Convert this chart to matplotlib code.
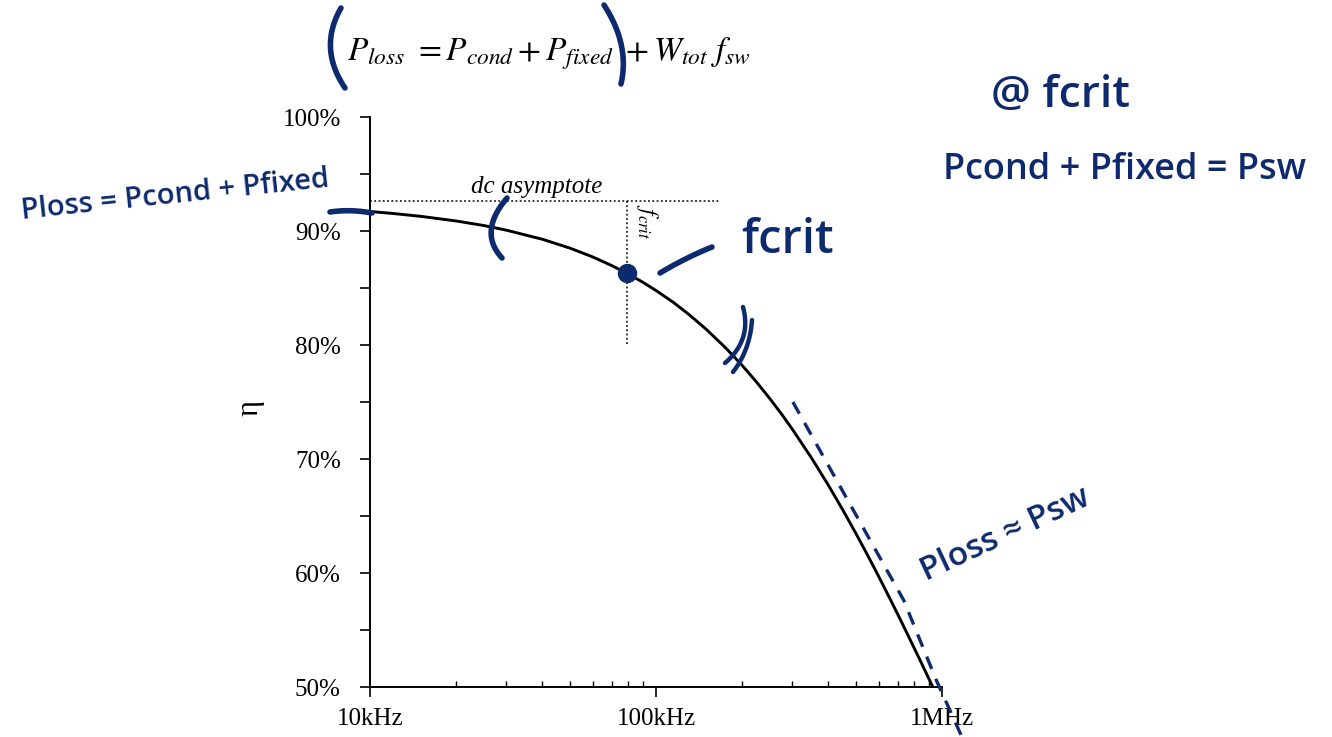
import numpy as np
import matplotlib
matplotlib.use("Agg")
import matplotlib.pyplot as plt
from matplotlib.lines import Line2D
from matplotlib.ticker import FixedLocator, NullFormatter

# efficiency vs switching frequency
f_khz = [10, 12, 15, 20, 25, 30, 40, 50, 60, 70, 80, 90, 100, 115, 130,
         150, 175, 200, 225, 250, 275, 300, 350, 400, 450, 500, 550, 600,
         650, 700, 750, 800, 850, 900, 929]
eta_pct = [91.71, 91.54, 91.29, 90.88, 90.48, 90.07, 89.28, 88.50, 87.73,
           86.97, 86.23, 85.50, 84.78, 83.74, 82.70, 81.37, 79.76, 78.22,
           76.73, 75.30, 73.93, 72.60, 70.08, 67.73, 65.53, 63.47, 61.54,
           59.72, 58.00, 56.39, 54.85, 53.40, 52.03, 50.72, 50.0]

# dc asymptote and critical frequency
eta_dc = 92.6
f_dc_end_khz = 168
f_crit_khz = 79
eta_crit = 86.3
eta_crit_low = 80.0

# hand-drawn switching-loss asymptote (Ploss ~ Psw)
f_sw_khz = [301, 490, 735, 955, 1175]
eta_sw = [75.0, 65.5, 57.6, 50.6, 45.6]

yticks = [50, 60, 70, 80, 90, 100]
ytick_labels = ["50%", "60%", "70%", "80%", "90%", "100%"]
xticks_khz = [10, 100, 1000]
xtick_labels = ["10kHz", "100kHz", "1MHz"]

INK = "#0d2a6e"
W, H = 1332, 737

plt.rcParams["mathtext.fontset"] = "stix"
serif = "Liberation Serif"

fig = plt.figure(figsize=(W / 100, H / 100), dpi=100)
ax = fig.add_axes([370 / W, 1 - 687 / H, 572 / W, 570 / H])

f = np.array(f_khz) * 1e3
ax.plot(f, eta_pct, color="black", lw=2.1, solid_capstyle="butt", zorder=3)

# dotted helper lines
ax.plot([1e4, f_dc_end_khz * 1e3], [eta_dc, eta_dc], color="black", lw=1.1,
        ls=(0, (1.2, 1.6)), zorder=2)
ax.plot([f_crit_khz * 1e3, f_crit_khz * 1e3], [eta_dc, eta_crit_low],
        color="black", lw=1.1, ls=(0, (1.2, 1.6)), zorder=2)
ax.text(np.sqrt(1e4 * f_dc_end_khz * 1e3) * 0.93, eta_dc + 0.3, "dc asymptote",
        fontsize=18, family=serif, style="italic", ha="center", va="bottom")
ax.text(f_crit_khz * 1e3 * 1.06, eta_dc - 0.2, r"$f_{crit}$", fontsize=17,
        rotation=270, ha="left", va="top")

# pen marks
ax.plot([f_crit_khz * 1e3], [eta_crit], "o", color=INK, ms=13, zorder=4)
ax.plot(np.array(f_sw_khz) * 1e3, eta_sw, color=INK, lw=2.4,
        ls=(0, (4, 3.2)), clip_on=False, zorder=4)

ax.set_xscale("log")
ax.set_xlim(1e4, 1e6)
ax.set_ylim(50, 100)
ax.set_yticks(yticks)
ax.set_yticklabels(ytick_labels)
ax.yaxis.set_minor_locator(FixedLocator([55, 65, 75, 85, 95]))
ax.set_xticks(np.array(xticks_khz) * 1e3)
ax.set_xticklabels(xtick_labels)
ax.xaxis.set_minor_formatter(NullFormatter())
for lab in ax.get_xticklabels() + ax.get_yticklabels():
    lab.set_family(serif)
    lab.set_fontsize(18)
ax.tick_params(axis="y", which="both", direction="out", length=7, width=1.2, pad=14)
ax.tick_params(axis="x", which="major", direction="out", length=7, width=1.2, pad=8)
ax.tick_params(axis="x", which="minor", direction="in", length=4, width=1.0)
for s in ["top", "right"]:
    ax.spines[s].set_visible(False)
for s in ["left", "bottom"]:
    ax.spines[s].set_linewidth(1.4)
ax.set_ylabel("η", fontsize=22, family=serif, rotation=90)
ax.yaxis.set_label_coords(-0.185, 0.49)

# loss equation above the plot
fig.text(549 / W, 1 - 54 / H,
         r"$P_{loss}\ = P_{cond} + P_{fixed}\ + W_{tot}\ f_{sw}$",
         fontsize=24, ha="center", va="center")


def px(x, y):
    return x / W, 1 - y / H


def bez(p0, p1, p2, n=24):
    t = np.linspace(0, 1, n)[:, None]
    pts = (1 - t) ** 2 * np.array(p0) + 2 * (1 - t) * t * np.array(p1) + t ** 2 * np.array(p2)
    return pts[:, 0], pts[:, 1]


def stroke(p0, p1, p2, lw=4.0):
    xs, ys = bez(p0, p1, p2)
    fx, fy = px(xs, ys)
    fig.add_artist(Line2D(fx, fy, color=INK, lw=lw, solid_capstyle="round",
                          transform=fig.transFigure, zorder=5))


# brackets round the conduction+fixed terms
stroke((341, 8), (318, 48), (345, 88))
stroke((604, 5), (630, 45), (621, 84))
# pen strokes over the plot
stroke((330, 212), (350, 209), (372, 213))
stroke((507, 198), (478, 232), (502, 258))
stroke((660, 273), (685, 258), (712, 247))
stroke((743, 307), (752, 340), (725, 363), lw=3.2)
stroke((752, 320), (750, 350), (733, 372), lw=3.2)

hand = dict(color=INK, family="Open Sans", fontweight="semibold")
fig.text(*px(175, 195), "Ploss = Pcond + Pfixed", fontsize=21, rotation=6,
         ha="center", va="center", **hand)
fig.text(*px(1060, 95), "@ fcrit", fontsize=32, ha="center", va="center", **hand)
fig.text(*px(1125, 170), "Pcond + Pfixed = Psw", fontsize=26, ha="center",
         va="center", **hand)
fig.text(*px(788, 240), "fcrit", fontsize=34, ha="center", va="center", **hand)
fig.text(*px(1005, 535), "Ploss ≈ Psw", fontsize=24, rotation=25,
         ha="center", va="center", **hand)

fig.savefig("out.png", dpi=100, facecolor="white")
